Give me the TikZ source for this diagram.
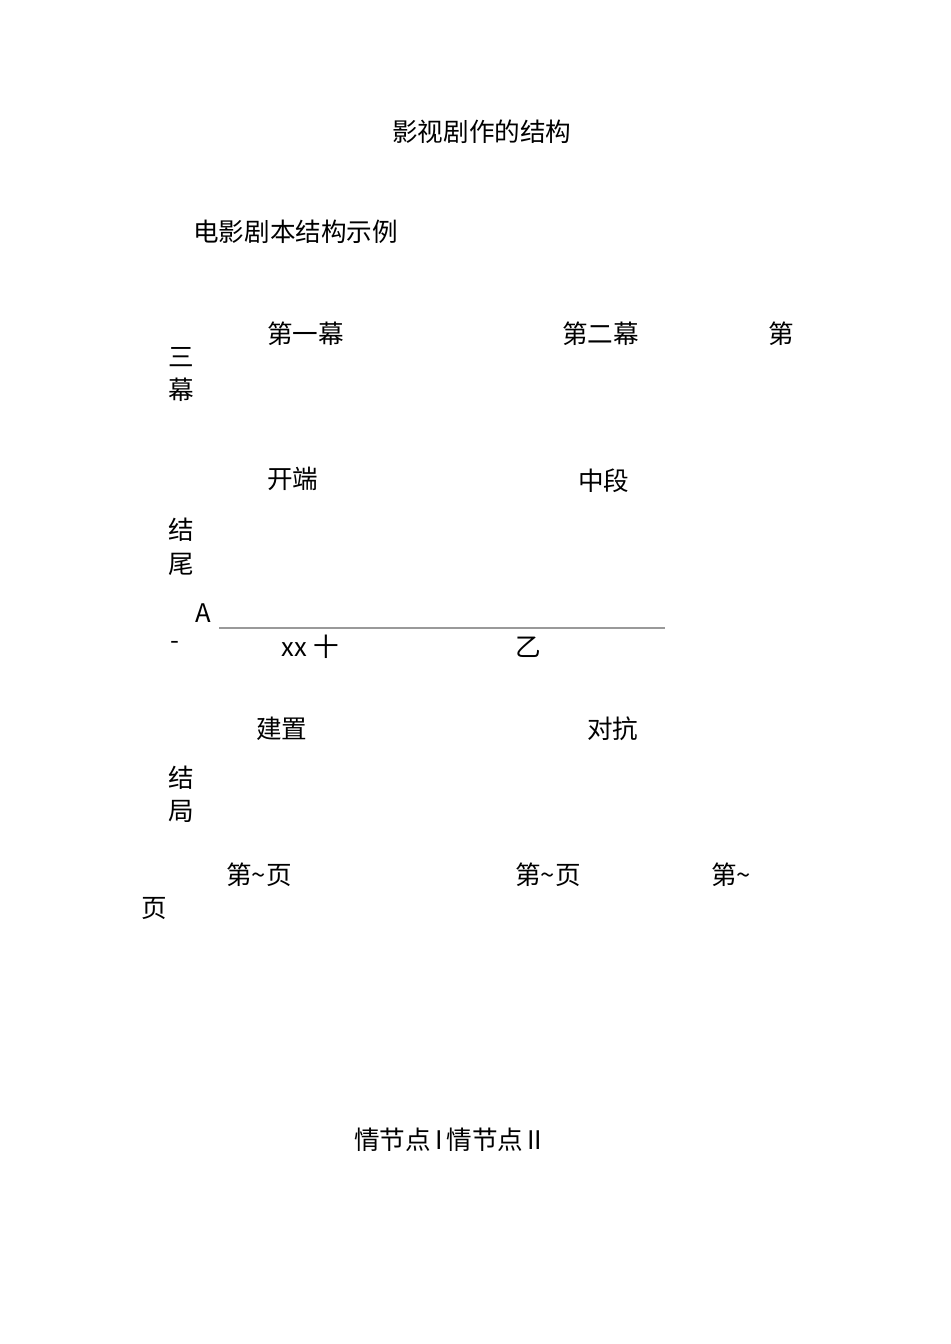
\documentclass[tikz,border=0pt]{standalone}
\usepackage{fontspec}
\setmainfont{Noto Sans CJK SC}
\begin{document}
\begin{tikzpicture}[x=0.75pt,y=-0.75pt,
  txt/.style={anchor=west,inner sep=0pt,font=\fontsize{19.2}{22}\selectfont}]
\useasboundingbox (0,0) rectangle (950,1344);
\fill[white] (0,0) rectangle (950,1344);
\node[txt] (title) at (392,132) {影视剧作的结构};
\node[txt] (sub) at (193,232) {电影剧本结构示例};
\node[txt] (a1) at (267,334) {第一幕};
\node[txt] (a2) at (562,334) {第二幕};
\node[txt] (a3) at (768,334) {第};
\node[txt] (a3b) at (168,357) {三};
\node[txt] (a3c) at (168,390) {幕};
\node[txt] (b1) at (267,479) {开端};
\node[txt] (b2) at (578,481) {中段};
\node[txt] (b3) at (168,530) {结};
\node[txt] (b3b) at (168,564) {尾};
\node[txt] (la) at (195,613) {A};
\coordinate (ls) at (219,628);
\coordinate (le) at (665,628);
\draw[gray!80,line width=0.9pt] (ls) -- (le);
\node[txt] (dash) at (170,645) {-};
\node[txt] (xx) at (281,647) {xx\kern5pt 十};
\node[txt] (yi) at (515,647) {乙};
\node[txt] (c1) at (256,729) {建置};
\node[txt] (c2) at (587,729) {对抗};
\node[txt] (c3) at (168,778) {结};
\node[txt] (c3b) at (168,811) {局};
\node[txt] (d1) at (226,875) {第\textasciitilde 页};
\node[txt] (d2) at (515,875) {第\textasciitilde 页};
\node[txt] (d3) at (711,875) {第\textasciitilde};
\node[txt] (d3b) at (141,909) {页};
\node[txt] (pp) at (354,1140) {情节点\kern3pt I\kern3pt 情节点\kern3pt II};
\end{tikzpicture}
\end{document}
